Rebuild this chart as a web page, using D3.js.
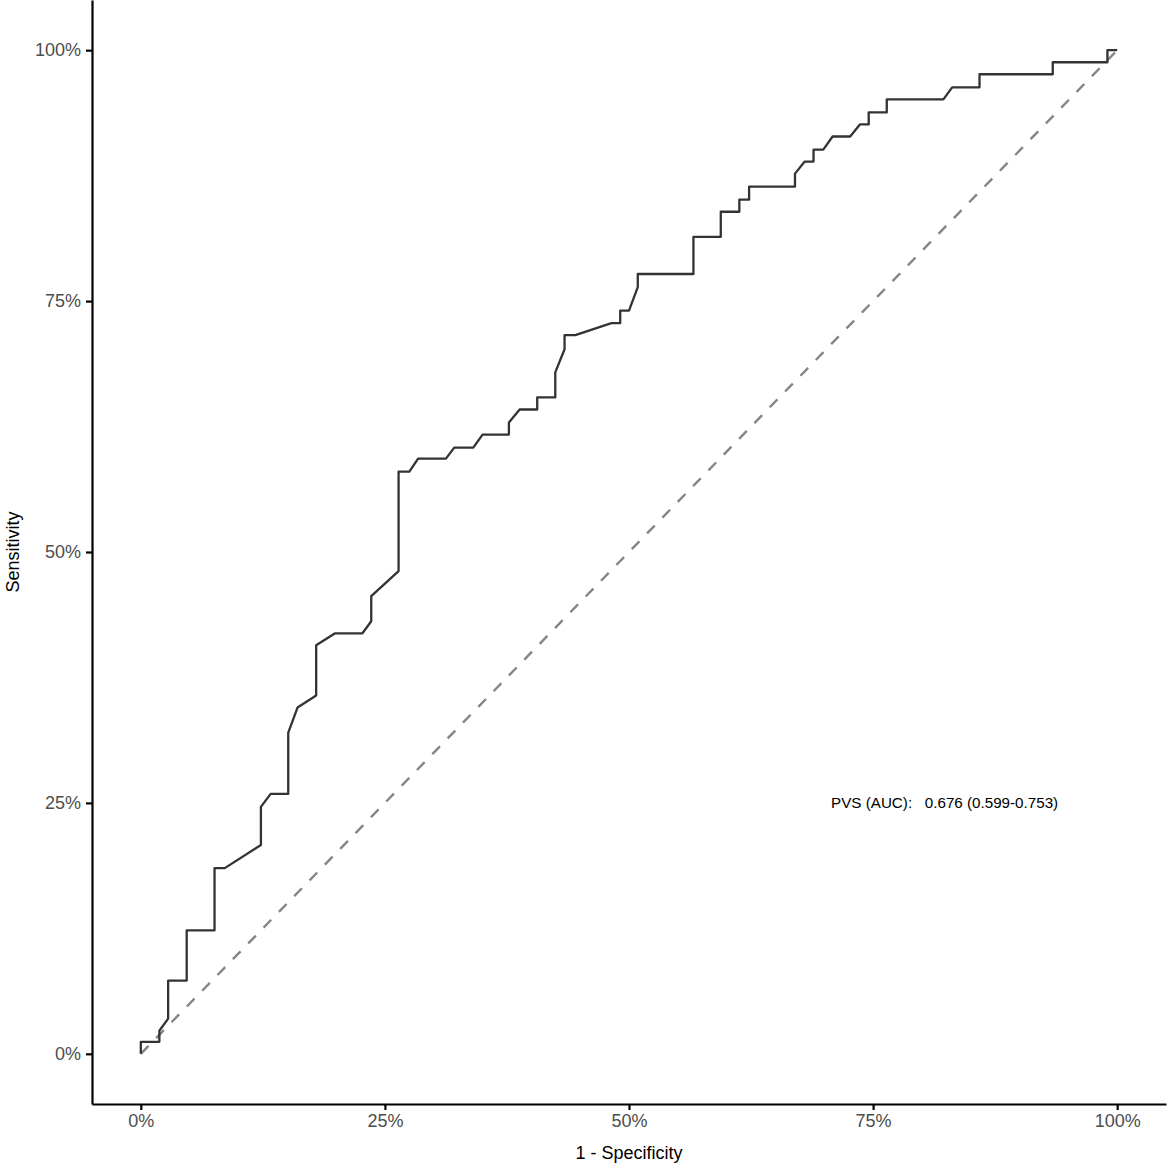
<!DOCTYPE html>
<html>
<head>
<meta charset="utf-8">
<script src="https://cdn.jsdelivr.net/npm/d3@7"></script>
<style>
  body { margin: 0; background: #fff; }
  text { font-family: "Liberation Sans", Arial, sans-serif; }
</style>
</head>
<body>
<div id="chart"></div>
<script>
// ROC curve points (percent)
let fpr = [0, 0, 1.9, 1.9, 2.8, 2.8, 4.7, 4.7, 7.55, 7.55, 8.6, 12.3, 12.3, 13.3, 15.1, 15.1,
	16.05, 17.96, 17.96, 19.9, 22.7, 23.6, 23.6, 26.4, 26.4, 27.5, 28.4, 31.25, 32.1, 34.05,
	35.0, 37.7, 37.7, 38.8, 40.6, 40.6, 42.45, 42.45, 43.4, 43.4, 44.5, 48.2, 49.1, 49.1,
	50.0, 50.9, 50.9, 56.6, 56.6, 59.4, 59.4, 61.3, 61.3, 62.3, 62.3, 67.0, 67.0, 68.0,
	68.9, 68.9, 69.9, 70.85, 72.65, 73.65, 74.55, 74.55, 76.4, 76.4, 82.2, 83.1, 85.9,
	85.9, 93.4, 93.4, 99.0, 99.0, 100];
let tpr = [0, 1.2, 1.2, 2.3, 3.5, 7.3, 7.3, 12.3, 12.3, 18.5, 18.5, 20.8, 24.6, 25.9, 25.9, 32.0,
	34.5, 35.7, 40.7, 41.9, 41.9, 43.1, 45.6, 48.1, 58.0, 58.0, 59.3, 59.3, 60.4, 60.4,
	61.7, 61.7, 62.9, 64.2, 64.2, 65.4, 65.4, 67.9, 70.2, 71.6, 71.6, 72.8, 72.8, 74.05,
	74.05, 76.4, 77.7, 77.7, 81.4, 81.4, 83.9, 83.9, 85.1, 85.1, 86.4, 86.4, 87.7, 88.9,
	88.9, 90.1, 90.1, 91.4, 91.4, 92.6, 92.6, 93.8, 93.8, 95.1, 95.1, 96.3, 96.3,
	97.6, 97.6, 98.8, 98.8, 100, 100];

let ticks = [0, 25, 50, 75, 100];
let tickLabels = ["0%", "25%", "50%", "75%", "100%"];
let aucLabel = "PVS (AUC):   0.676 (0.599-0.753)";
let aucPos = [70.7, 25]; // where the label sits, in data units

let width = 1170, height = 1163;

let x = d3.scaleLinear().domain([-5, 105]).range([92, 1166]);
let y = d3.scaleLinear().domain([-5, 105]).range([1104, 0]);

let svg = d3.select('#chart')
	.append('svg')
	.attr('width', width)
	.attr('height', height);

// reference diagonal
svg.append('line')
	.attr('x1', x(0)).attr('y1', y(0))
	.attr('x2', x(100)).attr('y2', y(100))
	.attr('stroke', '#858585')
	.attr('stroke-width', 2.4)
	.attr('stroke-dasharray', '11,11');

// ROC curve
let pts = fpr.map((d, i) => [d, tpr[i]]);
let line = d3.line()
	.x(d => x(d[0]))
	.y(d => y(d[1]));

svg.append('path')
	.datum(pts)
	.attr('d', line)
	.attr('fill', 'none')
	.attr('stroke', '#333')
	.attr('stroke-width', 2.3)
	.attr('stroke-linejoin', 'round');

// axes
let xAxis = d3.axisBottom(x)
	.tickValues(ticks)
	.tickFormat((d, i) => tickLabels[i])
	.tickSizeInner(6)
	.tickSizeOuter(0)
	.tickPadding(4);

let yAxis = d3.axisLeft(y)
	.tickValues(ticks)
	.tickFormat((d, i) => tickLabels[i])
	.tickSizeInner(6)
	.tickSizeOuter(0)
	.tickPadding(5);

let gx = svg.append('g')
	.attr('transform', 'translate(0,' + y(-5) + ')')
	.call(xAxis);

let gy = svg.append('g')
	.attr('transform', 'translate(' + x(-5) + ',0)')
	.call(yAxis);

[gx, gy].forEach(g => {
	g.select('.domain').attr('stroke', '#000').attr('stroke-width', 2.2);
	g.selectAll('.tick line').attr('stroke', '#000').attr('stroke-width', 2.2);
	g.selectAll('.tick text')
		.attr('fill', '#4d4d4d')
		.style('font-size', '18px')
		.style('font-family', '"Liberation Sans", Arial, sans-serif');
});

// axis titles
svg.append('text')
	.attr('x', x(50))
	.attr('y', 1159)
	.attr('text-anchor', 'middle')
	.style('font-size', '18px')
	.text('1 - Specificity');

svg.append('text')
	.attr('transform', 'translate(19,' + y(50) + ') rotate(-90)')
	.attr('text-anchor', 'middle')
	.style('font-size', '18px')
	.text('Sensitivity');

// AUC annotation
svg.append('text')
	.attr('x', x(aucPos[0]))
	.attr('y', y(aucPos[1]))
	.attr('dy', '.35em')
	.attr('xml:space', 'preserve')
	.style('white-space', 'pre')
	.style('font-size', '15.2px')
	.attr('fill', '#000')
	.text(aucLabel);
</script>
</body>
</html>
